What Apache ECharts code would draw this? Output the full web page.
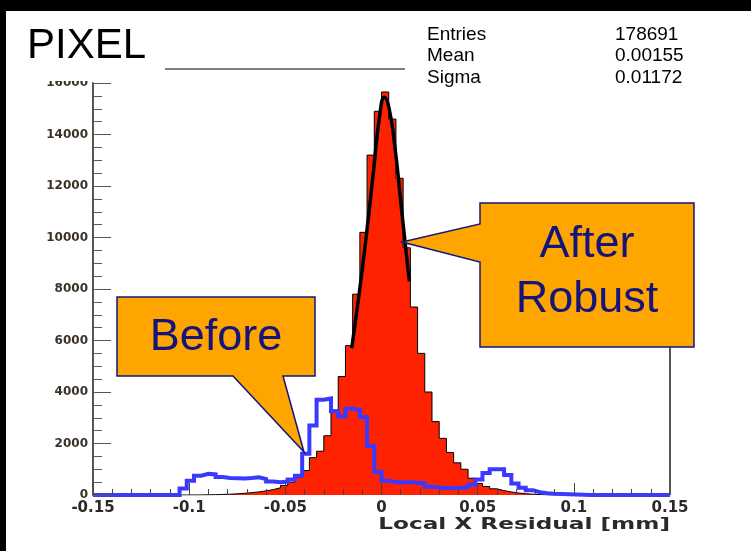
<!DOCTYPE html>
<html><head><meta charset="utf-8">
<script src="https://cdn.jsdelivr.net/npm/echarts@6/dist/echarts.min.js"></script>
<style>html,body{margin:0;padding:0;background:#000;overflow:hidden}#c{width:751px;height:551px}</style>
</head><body><div id="c"></div>
<script>
// ---- data ----
const X_MIN = -0.15, X_MAX = 0.15, BIN_WIDTH = 0.00375;
const Y_MAX = 16000;
// After Robust alignment (filled red histogram), 80 bins from -0.15 to 0.15
const afterRobust = [
  0,0,0,0,0,0,0,0,0,0,
  0,0,0,0,3,6,12,20,30,45,
  65,90,120,160,210,280,370,500,700,950,
  1450,1700,2300,3300,4600,5800,7800,10200,13200,14900,
  15650,14600,12300,9600,7300,5500,4000,2850,2200,1650,
  1250,1000,650,450,330,240,170,120,80,50,
  30,15,8,4,0,0,0,0,0,0,
  0,0,0,0,0,0,0,0,0,0
];
// Before (blue outline histogram)
const beforeRobust = [
  0,0,0,0,0,0,0,0,0,0,
  0,0,250,550,750,820,800,700,660,650,
  640,660,690,620,520,500,520,600,750,1600,
  2700,3700,3750,3250,3050,3350,3300,3030,1900,900,
  550,500,500,500,480,450,320,290,270,270,
  280,300,400,600,850,1000,1000,780,450,280,
  180,110,70,50,40,30,20,10,0,0,
  0,0,0,0,0,0,0,0,0,0
];
// Gaussian fit curve (black)
const fitX = [-0.0155,-0.012,-0.008,-0.004,-0.001,0.0015,0.004,0.007,0.010,0.013,0.0145];
const fitY = [5700,7600,10000,12700,14700,15450,15000,13500,11400,9300,8300];
const statsLabels = ['Entries','Mean','Sigma'];
const statsValues = ['178691','0.00155','0.01172'];
const xAxisTitle = 'Local X Residual [mm]';

function steps(vals){
  const pts = [];
  vals.forEach((v,i)=>{
    const a = X_MIN + i*BIN_WIDTH, b = a + BIN_WIDTH;
    pts.push([a, v], [b, v]);
  });
  return pts;
}

const chart = echarts.init(document.getElementById('c'), null, {renderer:'canvas'});
const navy = '#14147a';
const orange = '#ffa500';
const statText = [];
statsLabels.forEach((s,i)=>{
  statText.push({type:'text', left:427, top:25+i*21.5, z:50,
    style:{text:s, font:'19px "Liberation Sans", Arial, sans-serif', fill:'#000'}});
  statText.push({type:'text', left:615, top:25+i*21.5, z:50,
    style:{text:statsValues[i], font:'19px "Liberation Sans", Arial, sans-serif', fill:'#000'}});
});

chart.setOption({
  backgroundColor:'#000',
  animation:false,
  grid:{left:93, top:83, width:577, height:412, containLabel:false, outerBoundsMode:'none'},
  xAxis:{
    type:'value', min:X_MIN, max:X_MAX, interval:0.05, z:10,
    axisLine:{show:false, onZero:false},
    axisTick:{show:true, inside:true, length:12, lineStyle:{color:'#444', width:1}},
    minorTick:{show:true, splitNumber:5, length:6, lineStyle:{color:'#444', width:1}},
    splitLine:{show:false},
    axisLabel:{margin:6, color:'#2a2a2a', fontFamily:'DejaVu Sans', fontWeight:'bold', fontSize:15,
      formatter:v=>String(Math.round(v*100)/100)}
  },
  yAxis:{
    type:'value', min:0, max:Y_MAX, interval:2000, z:10,
    axisLine:{show:true, onZero:false, lineStyle:{color:'#555', width:2}},
    axisTick:{show:true, inside:true, length:18, lineStyle:{color:'#555', width:1}},
    minorTick:{show:true, splitNumber:4, length:9, lineStyle:{color:'#555', width:1}},
    splitLine:{show:false},
    axisLabel:{margin:5, color:'#3a3226', fontFamily:'DejaVu Sans', fontWeight:'bold', fontSize:12,
      formatter:v=>String(v)}
  },
  series:[
    {type:'line', name:'After', data:steps(afterRobust), symbol:'none', z:2,
      lineStyle:{color:'#000', width:1}, areaStyle:{color:'#ff2200', opacity:1}},
    {type:'line', name:'Fit', data:fitX.map((x,i)=>[x,fitY[i]]), symbol:'none', smooth:true, z:3,
      lineStyle:{color:'#000', width:3.5}},
    {type:'line', name:'Before', data:steps(beforeRobust), symbol:'none', z:4, clip:false,
      lineStyle:{color:'#3a3aff', width:4, join:'miter'}}
  ],
  graphic:[
    {type:'rect', shape:{x:6, y:11, width:745, height:540}, style:{fill:'#fff'}, z:-100, silent:true},
    {type:'rect', shape:{x:20, y:62, width:71, height:19}, style:{fill:'#fff'}, z:40, silent:true},
    {type:'line', shape:{x1:165, y1:69, x2:405, y2:69}, style:{stroke:'#555', lineWidth:1.5}, z:40},
    {type:'line', shape:{x1:670, y1:347, x2:670, y2:495}, style:{stroke:'#555', lineWidth:2}, z:40},
    {type:'text', x:670, y:525, scaleX:1.45, z:50,
      style:{text:xAxisTitle, font:'bold 16px "DejaVu Sans", sans-serif', fill:'#2a2a2a', textAlign:'right', textVerticalAlign:'middle'}},
    {type:'text', left:27, top:25, z:50,
      style:{text:'PIXEL', font:'42px "Liberation Sans", Arial, sans-serif', fill:'#000'}},
    ...statText,
    {type:'polygon', z:60, shape:{points:[[480,203],[694,203],[694,347],[480,347],[480,262],[402,242],[480,224]]},
      style:{fill:orange, stroke:navy, lineWidth:1.5}},
    {type:'text', z:61, x:587, y:245, style:{text:'After', font:'45px "Liberation Sans", Arial, sans-serif', fill:navy, textAlign:'center', textVerticalAlign:'middle'}},
    {type:'text', z:61, x:587, y:300, style:{text:'Robust', font:'45px "Liberation Sans", Arial, sans-serif', fill:navy, textAlign:'center', textVerticalAlign:'middle'}},
    {type:'polygon', z:60, shape:{points:[[117,297],[315,297],[315,376],[283,376],[304,452],[233,376],[117,376]]},
      style:{fill:orange, stroke:navy, lineWidth:1.5}},
    {type:'text', z:61, x:216, y:338, style:{text:'Before', font:'45px "Liberation Sans", Arial, sans-serif', fill:navy, textAlign:'center', textVerticalAlign:'middle'}}
  ]
});
</script></body></html>
